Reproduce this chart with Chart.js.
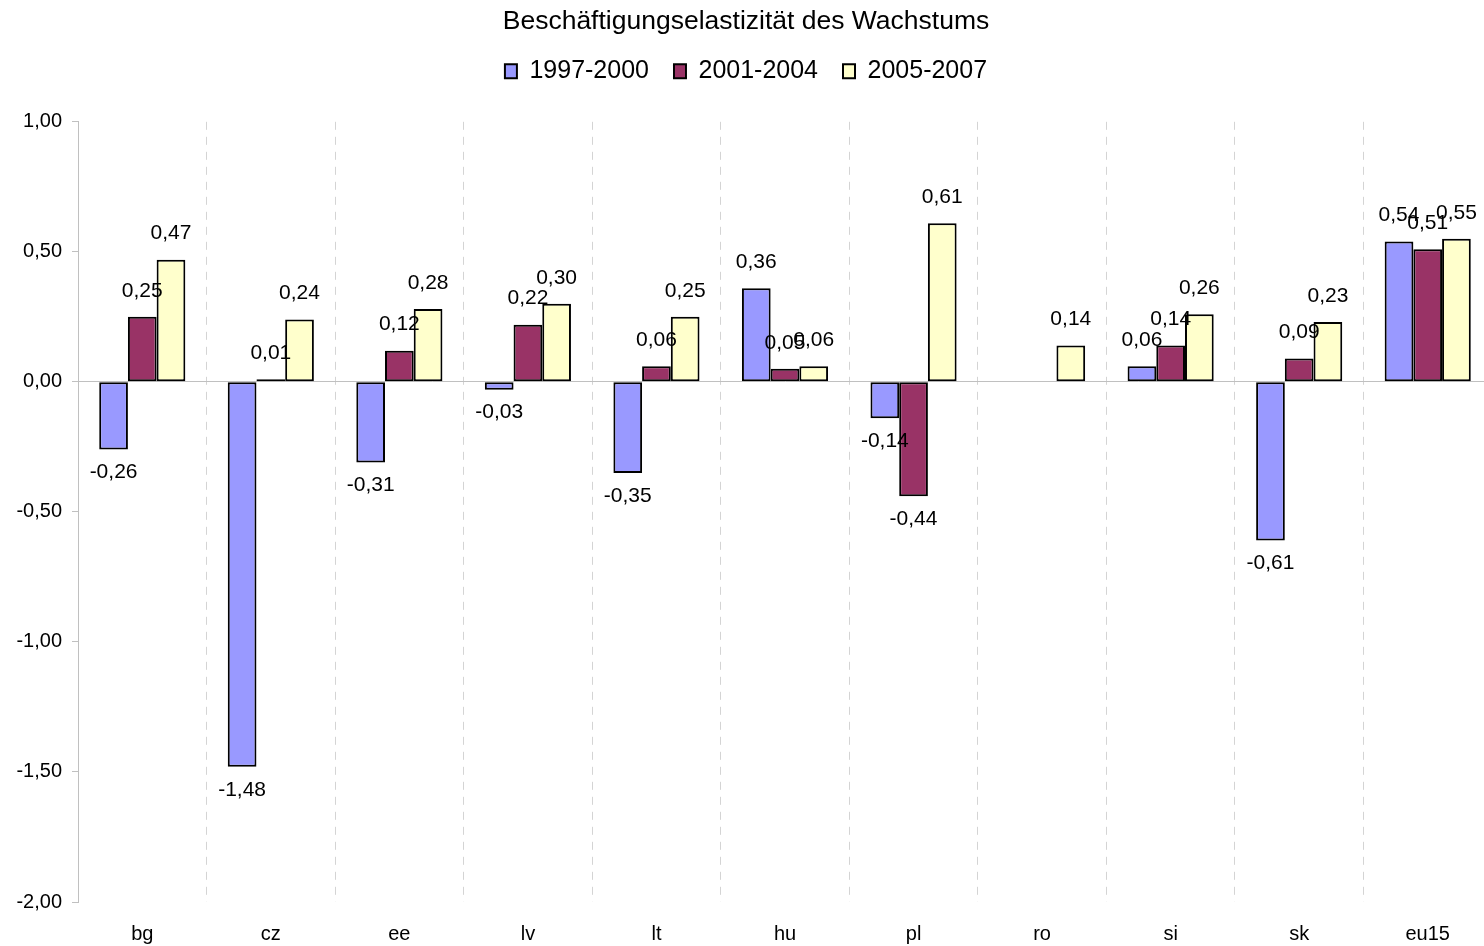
<!DOCTYPE html>
<html lang="de">
<head>
    <meta charset="UTF-8">
    <title>Beschäftigungselastizität des Wachstums</title>
    <style>
        html, body{
            margin: 0;
            padding: 0;
            overflow: hidden;
            background: #ffffff;
        }
    </style>
</head>
<body>
    <canvas id="grafik" width="1492" height="946"></canvas>

    <script src="https://cdn.jsdelivr.net/npm/chart.js"></script>
    <script>
        const laender = ["bg", "cz", "ee", "lv", "lt", "hu", "pl", "ro", "si", "sk", "eu15"]
        const werte9700 = [-0.26, -1.48, -0.31, -0.03, -0.35, 0.36, -0.14, null, 0.06, -0.61, 0.54]
        const werte0104 = [0.25, 0.01, 0.12, 0.22, 0.06, 0.05, -0.44, null, 0.14, 0.09, 0.51]
        const werte0507 = [0.47, 0.24, 0.28, 0.30, 0.25, 0.06, 0.61, 0.14, 0.26, 0.23, 0.55]
        const yTicks = [-2, -1.5, -1, -0.5, 0, 0.5, 1]

        const schrift = "'Liberation Sans', Arial, sans-serif"

        function komma(v){
            return v.toFixed(2).replace('.', ',')
        }

        // Werte ueber/unter die Balken schreiben
        const wertLabels = {
            id: 'wertLabels',
            afterDatasetsDraw(chart){
                const ctx = chart.ctx
                ctx.save()
                ctx.font = "21px " + schrift
                ctx.fillStyle = "#000000"
                ctx.textAlign = "center"
                ctx.textBaseline = "middle"
                chart.data.datasets.forEach((ds, i) => {
                    const meta = chart.getDatasetMeta(i)
                    meta.data.forEach((bar, j) => {
                        const v = ds.data[j]
                        if (v === null) return
                        const y = v >= 0 ? bar.y - 26 : bar.y + 23
                        ctx.fillText(komma(v), bar.x, y)
                    })
                })
                ctx.restore()
            }
        }

        new Chart(document.getElementById('grafik'), {
            type: 'bar',
            data: {
                labels: laender,
                datasets: [
                    { label: '1997-2000', data: werte9700, backgroundColor: '#9999FF' },
                    { label: '2001-2004', data: werte0104, backgroundColor: '#993366' },
                    { label: '2005-2007', data: werte0507, backgroundColor: '#FFFFCC' }
                ].map(d => Object.assign(d, {
                    borderColor: '#000000',
                    borderWidth: 2,
                    borderSkipped: false,
                    barPercentage: 1,
                    categoryPercentage: 0.67
                }))
            },
            options: {
                responsive: false,
                animation: false,
                devicePixelRatio: 1,
                layout: { padding: { left: 0, right: 0, top: 0, bottom: 0 } },
                plugins: {
                    tooltip: { enabled: false },
                    title: {
                        display: true,
                        text: 'Beschäftigungselastizität des Wachstums',
                        color: '#000000',
                        font: { family: schrift, size: 26.5, weight: 'normal' },
                        padding: { top: 6, bottom: -4 }
                    },
                    legend: {
                        display: true,
                        labels: {
                            color: '#000000',
                            font: { family: schrift, size: 25 },
                            boxWidth: 12,
                            boxHeight: 14,
                            padding: 25
                        }
                    },
                    // leerer Abstandhalter unter der Legende
                    subtitle: {
                        display: true,
                        text: ' ',
                        position: 'top',
                        weight: 900,
                        font: { family: schrift, size: 10, lineHeight: 1 },
                        padding: { top: 0, bottom: 18 }
                    }
                },
                scales: {
                    x: {
                        grid: {
                            offset: true,
                            color: '#d4d4d4',
                            drawTicks: false
                        },
                        border: { display: false, dash: [8, 7] },
                        ticks: {
                            color: '#000000',
                            font: { family: schrift, size: 20 },
                            padding: 20
                        },
                        afterFit(axis){
                            axis.height = 44
                        }
                    },
                    y: {
                        min: -2,
                        max: 1,
                        afterBuildTicks(axis){
                            axis.ticks = yTicks.map(v => ({ value: v }))
                        },
                        afterFit(axis){
                            axis.width = 78
                        },
                        grid: {
                            color: c => c.tick && c.tick.value === 0 ? '#c0c0c0' : 'rgba(0,0,0,0)',
                            tickColor: '#c0c0c0',
                            tickLength: 6
                        },
                        border: { display: true, color: '#c0c0c0', width: 1 },
                        ticks: {
                            color: '#000000',
                            font: { family: schrift, size: 20 },
                            padding: 10,
                            callback: v => komma(v)
                        }
                    }
                }
            },
            plugins: [wertLabels]
        })
    </script>
</body>
</html>
